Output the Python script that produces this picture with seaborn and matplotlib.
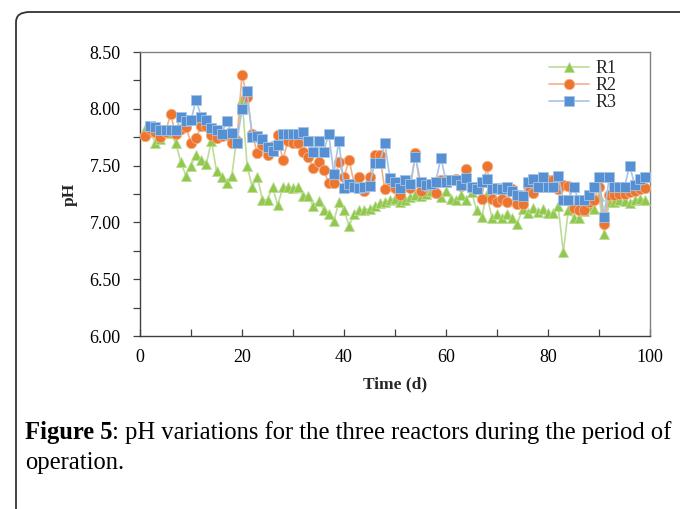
import matplotlib
matplotlib.use("Agg")
import matplotlib.pyplot as plt
import seaborn as sns
import pandas as pd
from matplotlib.patches import FancyBboxPatch
from matplotlib.ticker import MultipleLocator, FixedLocator

# ---------------- data ----------------
days_r1 = list(range(1, 100))
ph_r1 = [7.82, 7.80, 7.70, 7.73, 7.80, 7.79, 7.70, 7.53, 7.41, 7.50,
         7.59, 7.55, 7.51, 7.72, 7.45, 7.40, 7.35, 7.41, 7.75, 8.09,
         7.50, 7.31, 7.40, 7.20, 7.20, 7.31, 7.15, 7.31, 7.31, 7.30,
         7.31, 7.23, 7.23, 7.14, 7.19, 7.11, 7.07, 7.01, 7.18, 7.11,
         6.97, 7.07, 7.11, 7.11, 7.12, 7.14, 7.17, 7.18, 7.20, 7.21,
         7.18, 7.20, 7.22, 7.24, 7.23, 7.25, 7.28, 7.27, 7.22, 7.28,
         7.21, 7.20, 7.24, 7.20, 7.27, 7.11, 7.05, 7.25, 7.04, 7.07,
         7.04, 7.07, 7.04, 6.99, 7.12, 7.08, 7.13, 7.09, 7.12, 7.08,
         7.08, 7.14, 6.74, 7.11, 7.04, 7.04, 7.10, 7.14, 7.12, 7.23,
         6.90, 7.18, 7.18, 7.20, 7.19, 7.17, 7.20, 7.21, 7.20]

days_r2 = list(range(1, 100))
ph_r2 = [7.76, 7.82, 7.80, 7.75, 7.80, 7.95, 7.78, 7.82, 7.84, 7.70,
         7.74, 7.85, 7.85, 7.77, 7.74, 7.76, 7.77, 7.70, 7.72, 8.30,
         8.10, 7.78, 7.61, 7.68, 7.59, 7.67, 7.77, 7.55, 7.72, 7.70,
         7.70, 7.62, 7.58, 7.48, 7.53, 7.46, 7.35, 7.35, 7.53, 7.40,
         7.55, 7.34, 7.40, 7.28, 7.40, 7.59, 7.59, 7.29, 7.37, 7.30,
         7.24, 7.33, 7.30, 7.61, 7.28, 7.32, 7.33, 7.26, 7.37, 7.37,
         7.37, 7.38, 7.32, 7.47, 7.30, 7.31, 7.21, 7.50, 7.21, 7.18,
         7.21, 7.18, 7.29, 7.16, 7.16, 7.32, 7.26, 7.37, 7.38, 7.37,
         7.37, 7.29, 7.33, 7.32, 7.13, 7.11, 7.11, 7.18, 7.20, 7.31,
         6.99, 7.24, 7.24, 7.25, 7.25, 7.27, 7.28, 7.29, 7.30]

days_r3 = list(range(2, 100))
ph_r3 = [7.85, 7.84, 7.81, 7.81, 7.81, 7.81, 7.93, 7.89, 7.90,
         8.08, 7.93, 7.90, 7.83, 7.81, 7.78, 7.89, 7.79, 7.70, 8.00,
         8.16, 7.75, 7.76, 7.73, 7.66, 7.63, 7.68, 7.78, 7.78, 7.78,
         7.78, 7.80, 7.72, 7.62, 7.72, 7.62, 7.78, 7.43, 7.72, 7.30,
         7.34, 7.31, 7.30, 7.31, 7.32, 7.52, 7.52, 7.70, 7.39, 7.36,
         7.30, 7.37, 7.34, 7.58, 7.36, 7.33, 7.34, 7.36, 7.57, 7.36,
         7.37, 7.37, 7.33, 7.39, 7.31, 7.29, 7.36, 7.38, 7.29, 7.30,
         7.29, 7.31, 7.28, 7.24, 7.23, 7.36, 7.38, 7.31, 7.40, 7.31,
         7.31, 7.41, 7.20, 7.20, 7.31, 7.20, 7.20, 7.24, 7.31, 7.40,
         7.05, 7.40, 7.31, 7.31, 7.31, 7.50, 7.33, 7.38, 7.40]

series_names = ["R1", "R2", "R3"]
x_ticks = [0, 20, 40, 60, 80, 100]
y_ticks = [6.00, 6.50, 7.00, 7.50, 8.00, 8.50]
caption_bold = "Figure 5"
caption_rest = ": pH variations for the three reactors during the period of"
caption_line2 = "operation."

# ---------------- style ----------------
sns.set_theme(style="ticks")
plt.rcParams["font.family"] = ["Liberation Serif", "DejaVu Serif"]

W, H = 680, 509
fig = plt.figure(figsize=(W / 100, H / 100), dpi=100)
fig.patch.set_facecolor("white")

def fx(px):
    return px / W

def fy(py):
    return 1 - py / H

ax = fig.add_axes([fx(140), fy(336), fx(650) - fx(140), fy(52) - fy(336)])

styles = {
    "R1": dict(marker="^", line="#BCDC98", face="#92C84C", ms=7.5),
    "R2": dict(marker="o", line="#F3B088", face="#EC7530", ms=7.5),
    "R3": dict(marker="s", line="#A5C4E6", face="#5690D2", ms=7.0),
}
data_map = {"R1": (days_r1, ph_r1), "R2": (days_r2, ph_r2), "R3": (days_r3, ph_r3)}

for i, name in enumerate(series_names):
    d, v = data_map[name]
    df = pd.DataFrame({"Time (d)": d, "pH": v})
    st = styles[name]
    sns.lineplot(data=df, x="Time (d)", y="pH", ax=ax, color=st["line"],
                 linewidth=1.2, marker=st["marker"], markersize=st["ms"],
                 markerfacecolor=st["face"], markeredgecolor=st["line"],
                 markeredgewidth=0.6, label=name, zorder=3 + i)

ax.set_xlim(0, 100)
ax.set_ylim(6.0, 8.5)
ax.xaxis.set_major_locator(FixedLocator(x_ticks))
ax.xaxis.set_minor_locator(MultipleLocator(10))
ax.yaxis.set_major_locator(FixedLocator(y_ticks))
ax.yaxis.set_minor_locator(MultipleLocator(0.25))
ax.set_yticklabels([f"{t:.2f}" for t in y_ticks])
ax.set_xticklabels([str(t) for t in x_ticks])

ax.tick_params(axis="x", which="both", direction="in", length=5, width=0.9,
               color="#404040", labelsize=13, pad=9, labelcolor="black")
ax.tick_params(axis="y", which="both", direction="out", length=5, width=0.9,
               color="#404040", labelsize=13, pad=9, labelcolor="black")

for side in ["left", "bottom"]:
    ax.spines[side].set_color("#404040")
    ax.spines[side].set_linewidth(1.0)
for side in ["top", "right"]:
    ax.spines[side].set_visible(True)
    ax.spines[side].set_color("#808080")
    ax.spines[side].set_linewidth(1.0)

ax.set_xlabel("Time (d)", fontsize=12.5, fontweight="bold", labelpad=8)
ax.set_ylabel("pH", fontsize=12.5, fontweight="bold", labelpad=8)

leg = ax.legend(loc="upper right", bbox_to_anchor=(0.955, 1.01), frameon=False,
                fontsize=13, handlelength=2.2, handletextpad=0.35,
                labelspacing=0.0, borderaxespad=0.2)

# outer rounded frame
frame = FancyBboxPatch((fx(16), fy(560)), fx(720) - fx(16), fy(12) - fy(560),
                       boxstyle="round,pad=0,rounding_size=0.02",
                       transform=fig.transFigure, fill=False,
                       edgecolor="#333333", linewidth=1.3, clip_on=False)
fig.patches.append(frame)

# caption
cap_size = 17.7
t1 = fig.text(fx(25), fy(433), caption_bold, fontsize=cap_size, fontweight="bold",
              va="center", ha="left", color="black")
fig.canvas.draw()
bb = t1.get_window_extent(renderer=fig.canvas.get_renderer())
fig.text(bb.x1 / W, fy(433), caption_rest, fontsize=cap_size, va="center",
         ha="left", color="black")
fig.text(fx(25), fy(463), caption_line2, fontsize=cap_size, va="center",
         ha="left", color="black")

fig.savefig("out.png", dpi=100)
